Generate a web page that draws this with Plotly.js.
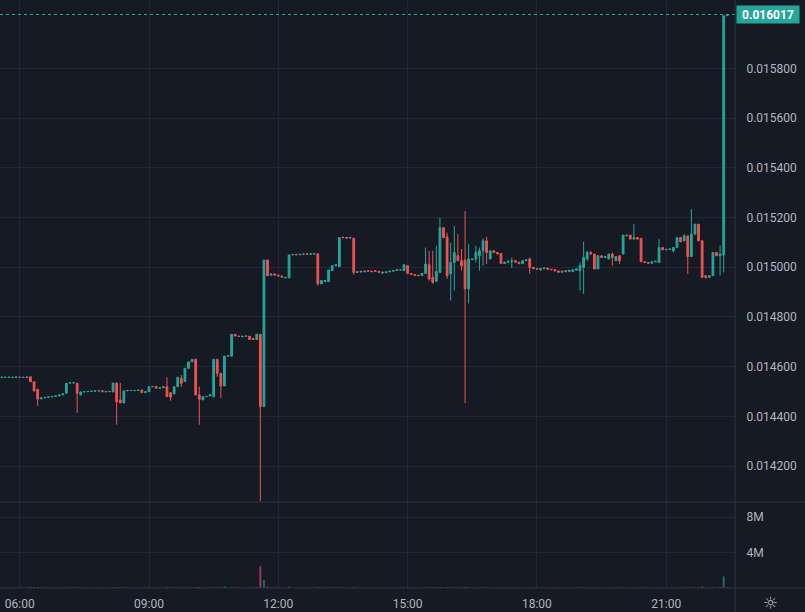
<!DOCTYPE html>
<html><head><meta charset="utf-8">
<script src="https://cdn.plot.ly/plotly-3.0.1.min.js"></script>
<style>html,body{margin:0;padding:0;background:#161a25;}#chart{width:805px;height:612px;}</style>
</head><body><div id="chart"></div>
<script>
const day = '2024-01-01 ';
const times = [
'05:30','05:35','05:40','05:45','05:50','05:55',
'06:00','06:05','06:10','06:15','06:20','06:25','06:30','06:35','06:40','06:45','06:50','06:55',
'07:00','07:05','07:10','07:15','07:20','07:25','07:30','07:35','07:40','07:45','07:50','07:55',
'08:00','08:05','08:10','08:15','08:20','08:25','08:30','08:35','08:40','08:45','08:50','08:55',
'09:00','09:05','09:10','09:15','09:20','09:25','09:30','09:35','09:40','09:45','09:50','09:55',
'10:00','10:05','10:10','10:15','10:20','10:25','10:30','10:35','10:40','10:45','10:50','10:55',
'11:00','11:05','11:10','11:15','11:20','11:25','11:30','11:35','11:40','11:45','11:50','11:55',
'12:00','12:05','12:10','12:15','12:20','12:25','12:30','12:35','12:40','12:45','12:50','12:55',
'13:00','13:05','13:10','13:15','13:20','13:25','13:30','13:35','13:40','13:45','13:50','13:55',
'14:00','14:05','14:10','14:15','14:20','14:25','14:30','14:35','14:40','14:45','14:50','14:55',
'15:00','15:05','15:10','15:15','15:20','15:25','15:30','15:35','15:40','15:45','15:50','15:55',
'16:00','16:05','16:10','16:15','16:20','16:25','16:30','16:35','16:40','16:45','16:50','16:55',
'17:00','17:05','17:10','17:15','17:20','17:25','17:30','17:35','17:40','17:45','17:50','17:55',
'18:00','18:05','18:10','18:15','18:20','18:25','18:30','18:35','18:40','18:45','18:50','18:55',
'19:00','19:05','19:10','19:15','19:20','19:25','19:30','19:35','19:40','19:45','19:50','19:55',
'20:00','20:05','20:10','20:15','20:20','20:25','20:30','20:35','20:40','20:45','20:50','20:55',
'21:00','21:05','21:10','21:15','21:20','21:25','21:30','21:35','21:40','21:45','21:50','21:55',
'22:00','22:05','22:10','22:15','22:20','22:25'];

const open = [
0.014556,0.014557,0.014556,0.014557,0.014556,0.014557,
0.014557,0.014556,0.014557,0.014559,0.014539,0.014509,0.014470,0.014474,0.014476,0.014478,0.014480,0.014482,
0.014486,0.014493,0.014533,0.014534,0.014533,0.014486,0.014498,0.014499,0.014500,0.014501,0.014502,0.014503,
0.014498,0.014499,0.014498,0.014534,0.014466,0.014454,0.014502,0.014504,0.014503,0.014504,0.014506,0.014495,
0.014499,0.014519,0.014520,0.014513,0.014515,0.014519,0.014495,0.014490,0.014519,0.014553,0.014540,0.014593,
0.014619,0.014629,0.014486,0.014466,0.014479,0.014482,0.014479,0.014629,0.014573,0.014522,0.014642,0.014642,
0.014730,0.014723,0.014720,0.014722,0.014722,0.014713,0.014709,0.014730,0.014439,0.015029,0.014968,0.014973,
0.014968,0.014965,0.014957,0.014957,0.015049,0.015052,0.015050,0.015052,0.015054,0.015052,0.015053,0.015054,
0.014933,0.014942,0.014942,0.014986,0.015006,0.015003,0.015121,0.015120,0.015117,0.015117,0.014979,0.014984,
0.014981,0.014986,0.014984,0.014986,0.014983,0.014976,0.014978,0.014981,0.014984,0.014987,0.014989,0.014986,
0.015006,0.014975,0.014971,0.014968,0.014966,0.014975,0.015010,0.014959,0.014943,0.014979,0.015159,0.015122,
0.014973,0.015019,0.015046,0.015026,0.015029,0.014913,0.015030,0.015033,0.015046,0.015066,0.015106,0.015033,
0.015066,0.015059,0.015055,0.015015,0.015020,0.015024,0.015026,0.015020,0.015014,0.015026,0.015033,0.014999,
0.014994,0.014990,0.014994,0.014997,0.014992,0.014990,0.014985,0.014980,0.014986,0.014982,0.014982,0.014988,
0.014986,0.014999,0.015033,0.015059,0.015053,0.014993,0.015046,0.015039,0.015033,0.015053,0.015026,0.015046,
0.015053,0.015126,0.015129,0.015113,0.015119,0.015116,0.015022,0.015019,0.015016,0.015022,0.015019,0.015079,
0.015070,0.015071,0.015066,0.015079,0.015119,0.015106,0.015126,0.015043,0.015133,0.015173,0.015106,0.014966,
0.014959,0.014966,0.015059,0.015046,0.015049,0.016012];

const high = [
0.014557,0.014557,0.014557,0.014557,0.014557,0.014558,
0.014557,0.014557,0.014558,0.014559,0.014539,0.014509,0.014474,0.014476,0.014478,0.014480,0.014482,0.014486,
0.014490,0.014533,0.014535,0.014535,0.014533,0.014498,0.014499,0.014500,0.014501,0.014502,0.014503,0.014503,
0.014500,0.014500,0.014534,0.014534,0.014534,0.014502,0.014504,0.014504,0.014504,0.014505,0.014506,0.014499,
0.014519,0.014520,0.014520,0.014515,0.014519,0.014557,0.014495,0.014519,0.014557,0.014566,0.014593,0.014619,
0.014629,0.014633,0.014519,0.014479,0.014480,0.014487,0.014629,0.014629,0.014573,0.014642,0.014644,0.014730,
0.014730,0.014723,0.014722,0.014723,0.014722,0.014713,0.014730,0.014730,0.015029,0.015029,0.014973,0.014973,
0.014968,0.014965,0.014959,0.015049,0.015051,0.015052,0.015052,0.015053,0.015054,0.015054,0.015054,0.015054,
0.014946,0.014946,0.014989,0.015006,0.015010,0.015119,0.015121,0.015120,0.015120,0.015117,0.014982,0.014984,
0.014984,0.014986,0.014984,0.014986,0.014983,0.014980,0.014981,0.014984,0.014987,0.014990,0.014990,0.015010,
0.015006,0.014975,0.014971,0.014968,0.014975,0.015079,0.015066,0.015066,0.015086,0.015199,0.015159,0.015139,
0.015099,0.015166,0.015133,0.015073,0.015226,0.015094,0.015033,0.015086,0.015079,0.015116,0.015122,0.015066,
0.015066,0.015059,0.015055,0.015020,0.015024,0.015039,0.015026,0.015020,0.015026,0.015030,0.015039,0.014999,
0.014994,0.014998,0.014997,0.014997,0.014992,0.014990,0.014985,0.014984,0.014986,0.014988,0.014990,0.014993,
0.015019,0.015103,0.015066,0.015066,0.015053,0.015046,0.015046,0.015043,0.015053,0.015059,0.015043,0.015046,
0.015129,0.015129,0.015129,0.015173,0.015119,0.015116,0.015022,0.015019,0.015022,0.015024,0.015113,0.015079,
0.015072,0.015073,0.015079,0.015119,0.015119,0.015133,0.015126,0.015233,0.015173,0.015173,0.015106,0.014966,
0.014966,0.015059,0.015059,0.015089,0.016012,0.016017];

const low = [
0.014556,0.014557,0.014556,0.014557,0.014556,0.014557,
0.014557,0.014556,0.014557,0.014539,0.014502,0.014442,0.014470,0.014474,0.014476,0.014478,0.014480,0.014482,
0.014486,0.014493,0.014533,0.014534,0.014415,0.014486,0.014498,0.014499,0.014500,0.014501,0.014502,0.014499,
0.014498,0.014499,0.014498,0.014366,0.014454,0.014454,0.014502,0.014504,0.014503,0.014504,0.014495,0.014495,
0.014499,0.014519,0.014513,0.014513,0.014515,0.014479,0.014463,0.014490,0.014519,0.014519,0.014540,0.014593,
0.014619,0.014486,0.014366,0.014466,0.014479,0.014482,0.014479,0.014559,0.014474,0.014522,0.014642,0.014642,
0.014723,0.014721,0.014720,0.014722,0.014709,0.014709,0.014709,0.014059,0.014439,0.014966,0.014968,0.014968,
0.014965,0.014960,0.014957,0.014957,0.015049,0.015050,0.015050,0.015052,0.015052,0.015052,0.015053,0.014926,
0.014933,0.014942,0.014942,0.014986,0.015006,0.015003,0.015119,0.015117,0.015117,0.014970,0.014979,0.014981,
0.014981,0.014983,0.014982,0.014983,0.014980,0.014974,0.014978,0.014981,0.014984,0.014987,0.014989,0.014986,
0.014975,0.014971,0.014967,0.014966,0.014966,0.014975,0.014946,0.014933,0.014943,0.014979,0.015119,0.014953,
0.014866,0.014906,0.015026,0.014986,0.014453,0.014854,0.015030,0.015019,0.014986,0.015006,0.015013,0.015033,
0.015059,0.015053,0.015015,0.015015,0.015020,0.014997,0.015020,0.015014,0.015014,0.015026,0.014973,0.014994,
0.014992,0.014986,0.014994,0.014992,0.014990,0.014985,0.014980,0.014980,0.014982,0.014982,0.014982,0.014988,
0.014906,0.014893,0.015026,0.015053,0.014993,0.014993,0.015039,0.015039,0.015033,0.015006,0.015026,0.015013,
0.015053,0.015126,0.015113,0.015113,0.015113,0.015022,0.015019,0.015016,0.015016,0.015022,0.015019,0.015070,
0.015070,0.015071,0.015059,0.015079,0.015102,0.015106,0.014973,0.015043,0.015133,0.015106,0.014959,0.014953,
0.014959,0.014966,0.015046,0.014966,0.014979,0.016012];

const close = [
0.014557,0.014557,0.014557,0.014557,0.014557,0.014558,
0.014557,0.014557,0.014558,0.014539,0.014502,0.014469,0.014474,0.014476,0.014478,0.014480,0.014482,0.014486,
0.014490,0.014533,0.014535,0.014535,0.014493,0.014498,0.014499,0.014500,0.014501,0.014502,0.014503,0.014499,
0.014500,0.014500,0.014534,0.014458,0.014454,0.014502,0.014504,0.014504,0.014504,0.014505,0.014495,0.014499,
0.014519,0.014520,0.014513,0.014515,0.014519,0.014479,0.014477,0.014519,0.014557,0.014533,0.014593,0.014619,
0.014629,0.014486,0.014469,0.014479,0.014480,0.014487,0.014629,0.014573,0.014522,0.014642,0.014644,0.014730,
0.014723,0.014721,0.014722,0.014723,0.014709,0.014709,0.014730,0.014439,0.015029,0.014966,0.014973,0.014968,
0.014965,0.014960,0.014959,0.015049,0.015051,0.015050,0.015052,0.015053,0.015052,0.015054,0.015054,0.014933,
0.014946,0.014946,0.014989,0.015006,0.015010,0.015119,0.015119,0.015117,0.015120,0.014979,0.014982,0.014981,
0.014984,0.014983,0.014982,0.014983,0.014980,0.014980,0.014981,0.014984,0.014987,0.014990,0.014990,0.015010,
0.014975,0.014971,0.014967,0.014966,0.014975,0.015013,0.014953,0.014939,0.014983,0.015159,0.015119,0.014966,
0.015019,0.015059,0.015026,0.015006,0.014913,0.015033,0.015033,0.015059,0.015066,0.015106,0.015059,0.015066,
0.015059,0.015053,0.015015,0.015020,0.015024,0.015026,0.015020,0.015014,0.015026,0.015030,0.014999,0.014994,
0.014992,0.014994,0.014997,0.014992,0.014990,0.014985,0.014980,0.014984,0.014982,0.014988,0.014990,0.014993,
0.015006,0.015039,0.015059,0.015053,0.014993,0.015046,0.015039,0.015043,0.015053,0.015039,0.015043,0.015026,
0.015129,0.015129,0.015113,0.015119,0.015113,0.015022,0.015019,0.015016,0.015022,0.015024,0.015079,0.015070,
0.015072,0.015073,0.015079,0.015119,0.015102,0.015126,0.015043,0.015133,0.015173,0.015106,0.014959,0.014959,
0.014966,0.015059,0.015046,0.015053,0.016012,0.016017];

// volume in millions
const volumeM = [
0.05,0.04,0.06,0.03,0.05,0.04,
0.05,0.04,0.03,0.12,0.10,0.09,0.06,0.05,0.04,0.05,0.04,0.05,
0.04,0.08,0.05,0.04,0.09,0.06,0.04,0.05,0.04,0.03,0.04,0.05,
0.04,0.03,0.08,0.10,0.07,0.06,0.04,0.03,0.04,0.03,0.05,0.04,
0.06,0.04,0.05,0.04,0.03,0.08,0.07,0.06,0.07,0.05,0.06,0.05,
0.05,0.10,0.12,0.05,0.04,0.04,0.12,0.07,0.08,0.18,0.05,0.10,
0.06,0.05,0.04,0.04,0.06,0.05,0.08,2.45,0.90,0.15,0.06,0.05,
0.05,0.04,0.04,0.15,0.05,0.04,0.05,0.04,0.04,0.05,0.04,0.10,
0.06,0.05,0.07,0.06,0.04,0.09,0.04,0.04,0.04,0.08,0.04,0.03,
0.04,0.03,0.04,0.03,0.04,0.04,0.03,0.04,0.03,0.04,0.03,0.05,
0.06,0.04,0.03,0.04,0.04,0.07,0.08,0.06,0.07,0.10,0.06,0.08,
0.08,0.09,0.06,0.05,0.12,0.08,0.04,0.05,0.05,0.06,0.06,0.05,
0.04,0.04,0.05,0.04,0.04,0.05,0.04,0.04,0.04,0.04,0.06,0.04,
0.04,0.04,0.03,0.04,0.03,0.04,0.04,0.03,0.04,0.03,0.04,0.04,
0.06,0.08,0.05,0.04,0.06,0.05,0.04,0.03,0.04,0.05,0.04,0.04,
0.07,0.04,0.04,0.05,0.04,0.06,0.04,0.03,0.04,0.04,0.06,0.04,
0.03,0.04,0.04,0.05,0.04,0.05,0.07,0.08,0.06,0.06,0.15,0.06,
0.04,0.08,0.05,0.10,1.32,0.06];

const priceTicks = [0.0142,0.0144,0.0146,0.0148,0.0150,0.0152,0.0154,0.0156,0.0158];
const volTicks = [4, 8];
const volTickText = ['4M', '8M'];
const lastPrice = 0.016017;
const lastPriceText = '0.016017';

const UP = '#26a69a', DOWN = '#ef5350';
const BG = '#161a25', GRID = '#232733', TXT = '#b2b5be', BORDER = '#2f3340';
const FONT = 'Roboto, "Liberation Sans", sans-serif';

const x = times.map(t => day + t);
const volColors = close.map((c, i) => c >= open[i] ? 'rgba(38,166,154,0.55)' : 'rgba(239,83,80,0.6)');

const traces = [
  {
    type: 'candlestick', x: x, open: open, high: high, low: low, close: close,
    xaxis: 'x', yaxis: 'y',
    increasing: {line: {color: UP, width: 1}, fillcolor: UP},
    decreasing: {line: {color: DOWN, width: 1}, fillcolor: DOWN},
    whiskerwidth: 0, hoverinfo: 'skip', showlegend: false
  },
  {
    type: 'bar', x: x, y: volumeM, xaxis: 'x', yaxis: 'y2',
    marker: {color: volColors, line: {width: 0}}, width: 170000,
    hoverinfo: 'skip', showlegend: false
  }
];

const H = 588;
const layout = {
  width: 805, height: 612,
  paper_bgcolor: BG, plot_bgcolor: BG,
  margin: {l: 0, r: 70, t: 0, b: 24, pad: 0},
  showlegend: false,
  boxgap: 0.3,
  font: {family: FONT, size: 12, color: TXT},
  xaxis: {
    type: 'date', anchor: 'y2',
    range: [day + '05:32:35', day + '22:35:45'],
    tick0: day + '00:00', dtick: 3 * 3600 * 1000, tickformat: '%H:%M',
    showgrid: true, gridcolor: GRID, gridwidth: 1, zeroline: false, showline: false,
    ticks: 'outside', ticklen: 5, tickcolor: 'rgba(0,0,0,0)',
    tickfont: {family: FONT, size: 12, color: TXT},
    rangeslider: {visible: false}, fixedrange: true
  },
  yaxis: {
    domain: [0.1471, 1], range: [0.0140571, 0.0160753], side: 'right', anchor: 'x',
    tickvals: priceTicks, tickformat: '.6f',
    showgrid: true, gridcolor: GRID, gridwidth: 1, zeroline: false, showline: false,
    ticks: 'outside', ticklen: 8, tickcolor: 'rgba(0,0,0,0)',
    tickfont: {family: FONT, size: 12, color: TXT}, fixedrange: true
  },
  yaxis2: {
    domain: [0, 0.1454], range: [0, 9.67], side: 'right', anchor: 'x',
    tickvals: volTicks, ticktext: volTickText,
    showgrid: true, gridcolor: GRID, gridwidth: 1, zeroline: false, showline: false,
    ticks: 'outside', ticklen: 8, tickcolor: 'rgba(0,0,0,0)',
    tickfont: {family: FONT, size: 12, color: TXT}, fixedrange: true
  },
  shapes: [
    {type: 'line', xref: 'paper', x0: 0, x1: 1, yref: 'y', y0: lastPrice, y1: lastPrice,
     line: {color: UP, width: 1, dash: 'dot'}},
    {type: 'line', xref: 'paper', x0: 0, x1: 805 / 735, yref: 'paper', y0: 0.1462, y1: 0.1462,
     line: {color: BORDER, width: 1}},
    {type: 'line', xref: 'paper', x0: 1, x1: 1, yref: 'paper', y0: -24 / H, y1: 1,
     line: {color: BORDER, width: 1}},
    {type: 'line', xref: 'paper', x0: 0, x1: 805 / 735, yref: 'paper', y0: 0, y1: 0,
     line: {color: BORDER, width: 1}}
  ],
  annotations: [
    {xref: 'paper', x: 1, xanchor: 'left', xshift: 1, yref: 'y', y: lastPrice, yanchor: 'middle',
     text: '<b>' + lastPriceText + '</b>', showarrow: false, bgcolor: UP,
     font: {family: FONT, size: 12, color: '#ffffff'}, borderpad: 2, width: 58, height: 13},
    {xref: 'paper', x: 770 / 735, yref: 'paper', y: -15 / H, xanchor: 'center', yanchor: 'middle',
     text: '\u263C', showarrow: false, font: {family: 'DejaVu Sans', size: 17, color: TXT}}
  ]
};

Plotly.newPlot('chart', traces, layout, {staticPlot: true, displayModeBar: false});
</script>
</body></html>
